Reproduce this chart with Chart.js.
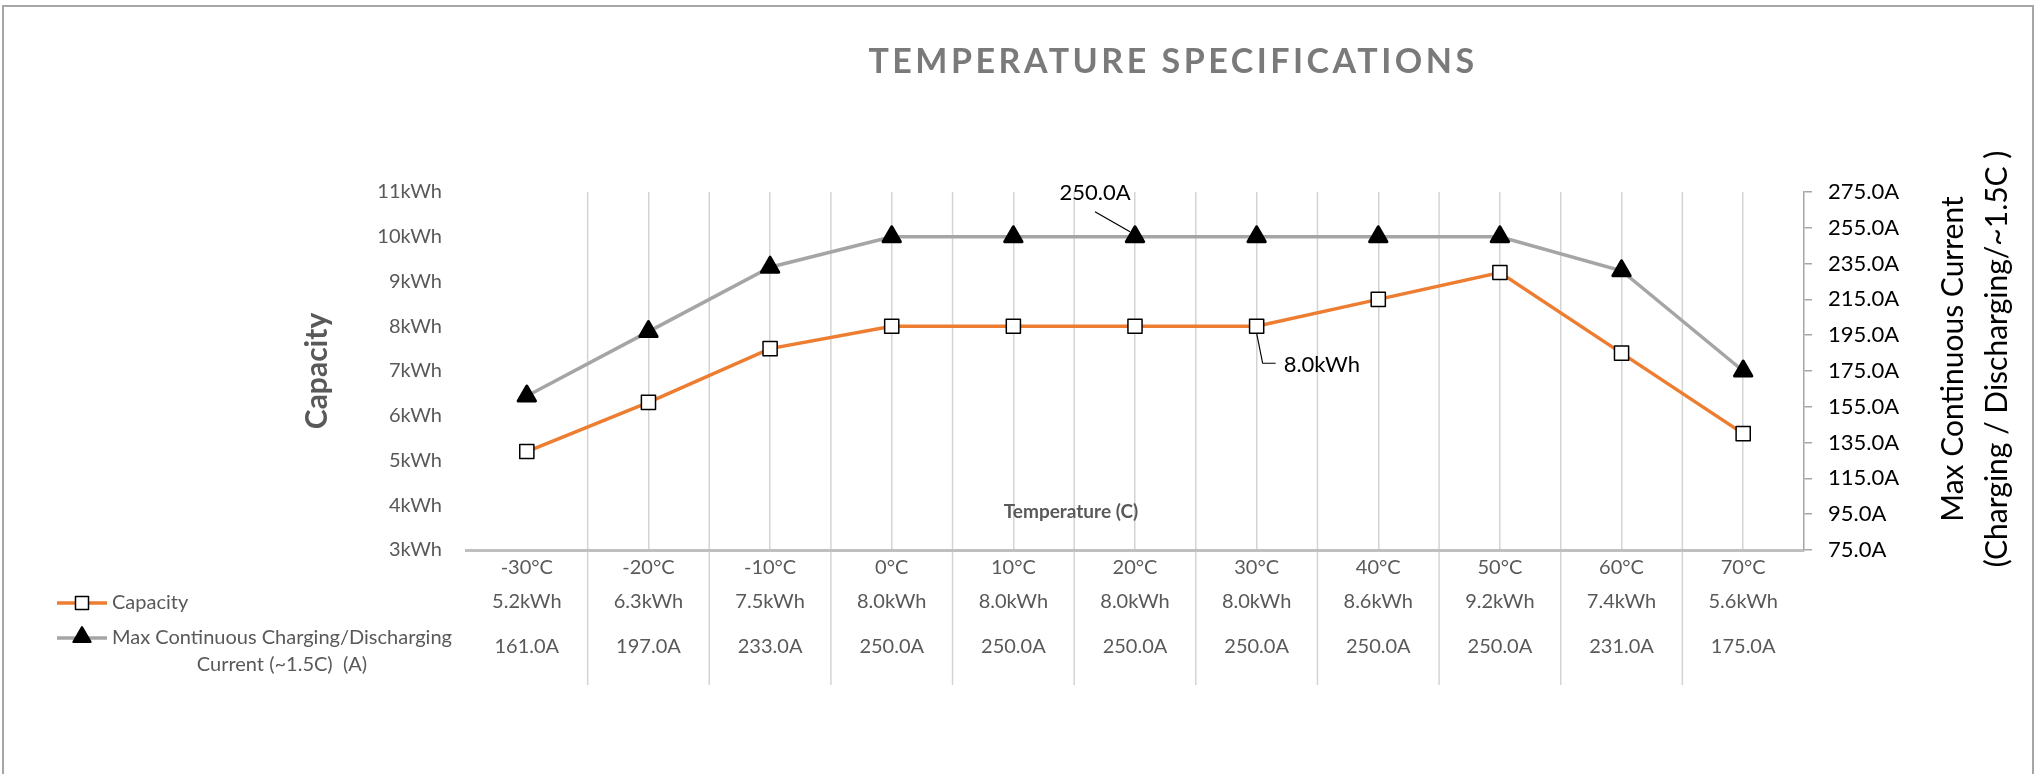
<!DOCTYPE html>
<html>
<head>
<meta charset="utf-8">
<title>Temperature Specifications</title>
<script src="https://cdn.jsdelivr.net/npm/chart.js@4.4.1/dist/chart.umd.min.js"></script>
<style>
  html, body { margin: 0; padding: 0; background: #fff; }
  canvas { display: block; }
</style>
</head>
<body>
<canvas id="temp-chart" width="2040" height="774"></canvas>
<script>
// --- datos ---
const temperatures = ['-30°C', '-20°C', '-10°C', '0°C', '10°C', '20°C', '30°C', '40°C', '50°C', '60°C', '70°C'];
const capacityKwh = [5.2, 6.3, 7.5, 8.0, 8.0, 8.0, 8.0, 8.6, 9.2, 7.4, 5.6];
const currentAmps = [161, 197, 233, 250, 250, 250, 250, 250, 250, 231, 175];
const capacityTicks = [3, 4, 5, 6, 7, 8, 9, 10, 11];
const currentTicks = [75, 95, 115, 135, 155, 175, 195, 215, 235, 255, 275];

const capacityLabel = 'Capacity';
const currentLabel = ['Max Continuous Charging/Discharging', 'Current (~1.5C)  (A)'];
const rightTitle = ['Max Continuous Current', '(Charging / Discharging/~1.5C )'];

// --- estilo ---
const FONT = "Lato, 'Open Sans', sans-serif";
const GREY_TEXT = '#595959';
const GRID = '#D4D4D4';
const ORANGE = '#ED7D31';
const GREY_LINE = '#A5A5A5';
const TABLE_BOTTOM = 685;

const fmtKwh = v => v.toFixed(1) + 'kWh';
const fmtAmp = v => v.toFixed(1) + 'A';

const drawSquare = (ctx, x, y, side) => {
    ctx.fillStyle = '#fff';
    ctx.strokeStyle = '#000';
    ctx.lineWidth = 1.5;
    ctx.fillRect(x - side / 2, y - side / 2, side, side);
    ctx.strokeRect(x - side / 2, y - side / 2, side, side);
};

const drawTriangle = (ctx, x, y, r) => {
    ctx.fillStyle = '#000';
    ctx.strokeStyle = '#000';
    ctx.lineWidth = 2;
    ctx.lineJoin = 'round';
    ctx.beginPath();
    ctx.moveTo(x, y - r);
    ctx.lineTo(x + r * 0.87, y + r * 0.5);
    ctx.lineTo(x - r * 0.87, y + r * 0.5);
    ctx.closePath();
    ctx.fill();
    ctx.stroke();
};

const excelExtras = {
    id: 'excelExtras',
    beforeDraw(chart) {
        const { ctx, width, height, chartArea, scales: { x } } = chart;
        ctx.save();
        ctx.fillStyle = '#fff';
        ctx.fillRect(0, 0, width, height);

        // marco del gráfico
        ctx.strokeStyle = '#A6A6A6';
        ctx.lineWidth = 2;
        ctx.beginPath();
        ctx.moveTo(3, height);
        ctx.lineTo(3, 6);
        ctx.lineTo(2033, 6);
        ctx.lineTo(2033, height);
        ctx.stroke();

        // líneas entre categorías, continúan por la tabla de datos
        ctx.strokeStyle = GRID;
        ctx.lineWidth = 1.5;
        for (let i = 1; i < temperatures.length; i++) {
            const px = (x.getPixelForValue(i - 1) + x.getPixelForValue(i)) / 2;
            ctx.beginPath();
            ctx.moveTo(px, chartArea.top);
            ctx.lineTo(px, TABLE_BOTTOM);
            ctx.stroke();
        }
        ctx.restore();
    },
    beforeDatasetDraw(chart, args) {
        // marcadores redondeados como en Excel
        chart.ctx.lineJoin = 'round';
    },
    afterDatasetsDraw(chart) {
        const { ctx } = chart;
        const curPt = chart.getDatasetMeta(1).data[5];
        const capPt = chart.getDatasetMeta(0).data[6];
        ctx.save();
        ctx.fillStyle = '#000';
        ctx.strokeStyle = '#000';
        ctx.lineWidth = 1.2;
        ctx.font = `22px ${FONT}`;
        ctx.textBaseline = 'middle';

        // etiqueta 250.0A
        ctx.beginPath();
        ctx.moveTo(curPt.x - 40, curPt.y - 25);
        ctx.lineTo(curPt.x - 5, curPt.y - 5);
        ctx.stroke();
        ctx.textAlign = 'center';
        ctx.fillText(fmtAmp(currentAmps[5]), curPt.x - 40, curPt.y - 44);

        // etiqueta 8.0kWh
        ctx.beginPath();
        ctx.moveTo(capPt.x, capPt.y + 7);
        ctx.lineTo(capPt.x + 6, capPt.y + 37);
        ctx.lineTo(capPt.x + 19, capPt.y + 37);
        ctx.stroke();
        ctx.textAlign = 'left';
        ctx.fillText(fmtKwh(capacityKwh[6]), capPt.x + 27, capPt.y + 39);
        ctx.restore();
    },
    afterDraw(chart) {
        const { ctx, chartArea, scales: { x, y1 } } = chart;
        ctx.save();

        // título
        ctx.fillStyle = '#7A7A7A';
        ctx.font = `bold 34px ${FONT}`;
        ctx.letterSpacing = '3.5px';
        ctx.textAlign = 'center';
        ctx.textBaseline = 'middle';
        ctx.fillText('TEMPERATURE SPECIFICATIONS', 1173, 62);
        ctx.letterSpacing = '0px';

        // título del eje x dentro del área
        ctx.fillStyle = GREY_TEXT;
        ctx.font = `bold 19px ${FONT}`;
        ctx.fillText('Temperature (C)', chartArea.left + 605, chartArea.bottom - 38);

        // título del eje derecho (rotado, de abajo hacia arriba)
        ctx.fillStyle = '#000';
        ctx.font = `30px ${FONT}`;
        const midY = (y1.top + y1.bottom) / 2 - 12;
        rightTitle.forEach((line, i) => {
            ctx.save();
            ctx.translate(1953 + i * 44, midY);
            ctx.rotate(-Math.PI / 2);
            ctx.fillText(line, 0, 0);
            ctx.restore();
        });

        // tabla de datos
        ctx.fillStyle = GREY_TEXT;
        ctx.font = `20px ${FONT}`;
        temperatures.forEach((_, i) => {
            const px = x.getPixelForValue(i);
            ctx.fillText(fmtKwh(capacityKwh[i]), px, 602);
            ctx.fillText(fmtAmp(currentAmps[i]), px, 647);
        });

        // leyenda de la tabla
        ctx.lineWidth = 3.5;
        ctx.strokeStyle = ORANGE;
        ctx.beginPath(); ctx.moveTo(57, 603); ctx.lineTo(107, 603); ctx.stroke();
        drawSquare(ctx, 82, 603, 13);
        ctx.strokeStyle = GREY_LINE;
        ctx.lineWidth = 3.5;
        ctx.beginPath(); ctx.moveTo(57, 638); ctx.lineTo(107, 638); ctx.stroke();
        drawTriangle(ctx, 82, 637, 10);

        ctx.fillStyle = GREY_TEXT;
        ctx.textAlign = 'left';
        ctx.fillText(capacityLabel, 112, 603);
        const w = ctx.measureText(currentLabel[0]).width;
        ctx.textAlign = 'center';
        ctx.fillText(currentLabel[0], 112 + w / 2, 638);
        ctx.fillText(currentLabel[1], 112 + w / 2, 665);
        ctx.restore();
    }
};

Chart.defaults.font.family = FONT;

new Chart(document.getElementById('temp-chart'), {
    type: 'line',
    data: {
        labels: temperatures,
        datasets: [
            {
                label: capacityLabel,
                data: capacityKwh,
                yAxisID: 'y',
                borderColor: ORANGE,
                borderWidth: 3.5,
                pointStyle: 'rect',
                pointRadius: 10,
                pointBackgroundColor: '#fff',
                pointBorderColor: '#000',
                pointBorderWidth: 1.5,
                tension: 0
            },
            {
                label: currentLabel.join(' '),
                data: currentAmps,
                yAxisID: 'y1',
                borderColor: GREY_LINE,
                borderWidth: 3.5,
                pointStyle: 'triangle',
                pointRadius: 10,
                pointBackgroundColor: '#000',
                pointBorderColor: '#000',
                pointBorderWidth: 3,
                tension: 0
            }
        ]
    },
    options: {
        responsive: false,
        animation: false,
        layout: { padding: { top: 192, left: 0, right: 0, bottom: 0 } },
        plugins: { legend: { display: false }, tooltip: { enabled: false } },
        scales: {
            x: {
                offset: true,
                grid: {
                    offset: false,
                    drawTicks: false,
                    lineWidth: 1.5,
                    color: ctx => ctx.index === 0 ? 'rgba(0,0,0,0)' : GRID
                },
                border: { color: '#BFBFBF', width: 3 },
                ticks: { color: GREY_TEXT, font: { size: 20 }, padding: 6, maxRotation: 0 },
                afterFit: s => { s.height = 224; }
            },
            y: {
                position: 'left',
                min: capacityTicks[0],
                max: capacityTicks[capacityTicks.length - 1],
                grid: { display: false },
                border: { display: false },
                ticks: {
                    stepSize: capacityTicks[1] - capacityTicks[0],
                    color: GREY_TEXT,
                    font: { size: 20 },
                    padding: 16,
                    callback: v => v + 'kWh'
                },
                title: {
                    display: true,
                    text: 'Capacity',
                    color: GREY_TEXT,
                    font: { size: 30, weight: 'bold' },
                    padding: { top: 299, bottom: 0 }
                },
                afterFit: s => { s.width = 466; }
            },
            y1: {
                position: 'right',
                min: currentTicks[0],
                max: currentTicks[currentTicks.length - 1],
                grid: { drawOnChartArea: false, drawTicks: true, tickLength: 8, color: '#A6A6A6', lineWidth: 1.5 },
                border: { color: '#A6A6A6', width: 1.5 },
                ticks: {
                    stepSize: currentTicks[1] - currentTicks[0],
                    color: '#000',
                    font: { size: 22 },
                    padding: 16,
                    callback: v => v.toFixed(1) + 'A'
                },
                afterFit: s => { s.width = 236; }
            }
        }
    },
    plugins: [excelExtras]
});
</script>
</body>
</html>
